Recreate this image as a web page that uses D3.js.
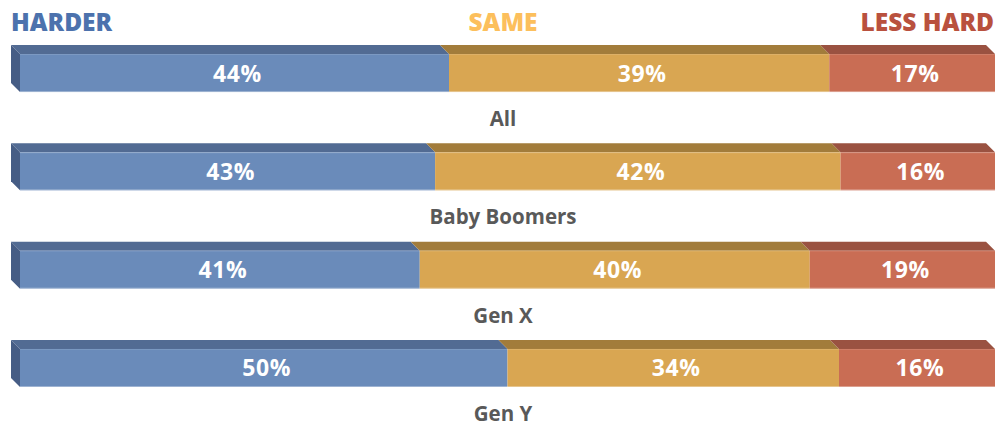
<!DOCTYPE html>
<html>
<head>
<meta charset="utf-8">
<script src="https://cdn.jsdelivr.net/npm/d3@7"></script>
<style>
  html, body { margin: 0; padding: 0; background: #ffffff; }
  svg { display: block; font-family: "Open Sans", "Noto Sans", sans-serif; }
</style>
</head>
<body>
<svg id="chart" width="1003" height="426"></svg>
<script>
// Survey groups and the share answering each option (percent)
const categories = ["All", "Baby Boomers", "Gen X", "Gen Y"];
const seriesNames = ["HARDER", "SAME", "LESS HARD"];
const harder   = [44, 43, 41, 50];
const same     = [39, 42, 40, 34];
const lessHard = [17, 16, 19, 16];

// Face colours per series: front, top, side
const frontColors = ["#6a8bba", "#d9a652", "#c96d54"];
const topColors   = ["#526b93", "#a27c3b", "#9a5241"];
const sideColors  = ["#465d85", "#8a6a32", "#84463a"];
const legendColors = ["#4c72ad", "#fcbf5c", "#b9513e"];

const svg = d3.select("#chart");
const depth = 9;

const x = d3.scaleLinear().domain([0, 100]).range([20, 995]);
const y = d3.scaleBand().domain(categories).range([54, 387]).paddingInner(0.613).paddingOuter(0);

// Stack rows, normalised so each bar fills the full width
const rows = categories.map((c, i) => {
  const vals = [harder[i], same[i], lessHard[i]];
  const total = d3.sum(vals);
  const row = { category: c };
  seriesNames.forEach((s, j) => { row[s] = vals[j] / total * 100; row[s + "_label"] = vals[j]; });
  return row;
});
const stacked = d3.stack().keys(seriesNames)(rows);

const bars = svg.append("g");
categories.forEach((c, i) => {
  const g = bars.append("g");
  const y0 = y(c), h = y.bandwidth();
  stacked.forEach((layer, j) => {
    const d = layer[i];
    const xa = x(d[0]), xb = x(d[1]);
    // top face
    g.append("path")
      .attr("d", `M${xa},${y0} L${xa - depth},${y0 - depth} L${xb - depth},${y0 - depth} L${xb},${y0} Z`)
      .attr("fill", topColors[j]);
    // front face
    g.append("rect")
      .attr("x", xa).attr("y", y0).attr("width", xb - xa).attr("height", h)
      .attr("fill", frontColors[j]);
    // left side face of the first segment
    if (j === 0) {
      g.append("path")
        .attr("d", `M${xa - depth},${y0 - depth} L${xa},${y0} L${xa},${y0 + h} L${xa - depth},${y0 + h - depth} Z`)
        .attr("fill", sideColors[j]);
    }
  });
  // soft highlight on the lower edge
  g.append("line")
    .attr("x1", x(0)).attr("x2", x(100))
    .attr("y1", y0 + h - 0.5).attr("y2", y0 + h - 0.5)
    .attr("stroke", "#ffffff").attr("stroke-opacity", 0.35);
  // bevel edge at front/top junction
  g.append("line")
    .attr("x1", x(0)).attr("x2", x(100))
    .attr("y1", y0 + 0.5).attr("y2", y0 + 0.5)
    .attr("stroke", "#ffffff").attr("stroke-opacity", 0.12);

  // value labels
  stacked.forEach((layer, j) => {
    const d = layer[i];
    g.append("text")
      .attr("x", (x(d[0]) + x(d[1])) / 2 + 3)
      .attr("y", y0 + h / 2 + 8.5)
      .attr("text-anchor", "middle")
      .attr("fill", "#ffffff")
      .attr("font-size", 23)
      .attr("font-weight", 700)
      .attr("letter-spacing", 0.6)
      .text(d.data[layer.key + "_label"] + "%");
  });

  // category label
  svg.append("text")
    .attr("x", 503)
    .attr("y", y0 + h + 34)
    .attr("text-anchor", "middle")
    .attr("fill", "#595959")
    .attr("font-size", 20.5)
    .attr("font-weight", 700)
    .text(c);
});

// legend headings across the top
const legendX = [11, 503, 994];
const legendAnchor = ["start", "middle", "end"];
seriesNames.forEach((s, j) => {
  svg.append("text")
    .attr("x", legendX[j])
    .attr("y", 31)
    .attr("text-anchor", legendAnchor[j])
    .attr("fill", legendColors[j])
    .attr("font-size", 24.5)
    .attr("font-weight", 800)
    .text(s);
});
</script>
</body>
</html>
